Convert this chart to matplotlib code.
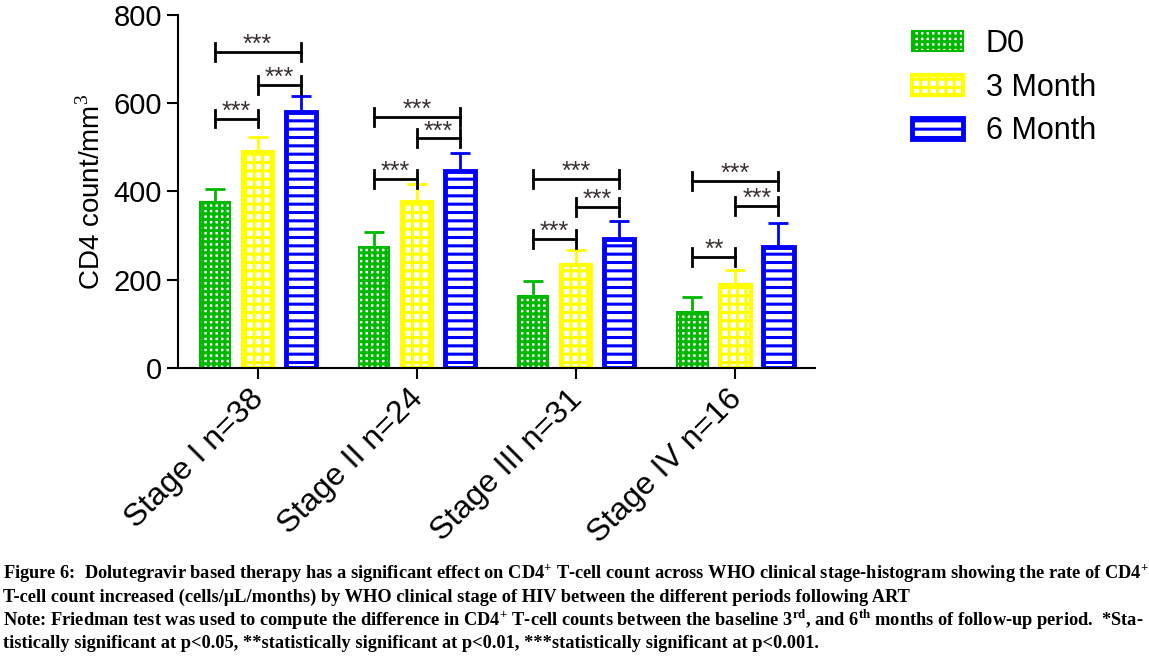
import numpy as np
import matplotlib
matplotlib.use("Agg")
import matplotlib.pyplot as plt
from matplotlib.transforms import ScaledTranslation

plt.rcParams["font.family"] = ["Liberation Sans", "DejaVu Sans"]
plt.rcParams["hatch.linewidth"] = 2.2
plt.rcParams["mathtext.fontset"] = "custom"
plt.rcParams["mathtext.rm"] = "Liberation Serif"
plt.rcParams["mathtext.bf"] = "Liberation Serif:bold"

# data
stages = ["Stage I n=38", "Stage II n=24", "Stage III n=31", "Stage IV n=16"]
series = ["D0", "3 Month", "6 Month"]
d0 = [376, 274, 163, 127]
m3 = [490, 376, 233, 188]
m6 = [580, 447, 293, 274]
d0_err = [30, 34, 34, 34]
m3_err = [34, 41, 35, 34]
m6_err = [37, 41, 40, 55]

# significance brackets: (stage, bar a, bar b, height, label)
brackets = [
    (0, 0, 2, 716, "***"), (0, 1, 2, 642, "***"), (0, 0, 1, 565, "***"),
    (1, 0, 2, 569, "***"), (1, 1, 2, 521, "***"), (1, 0, 1, 429, "***"),
    (2, 0, 2, 429, "***"), (2, 1, 2, 365, "***"), (2, 0, 1, 293, "***"),
    (3, 0, 2, 424, "***"), (3, 1, 2, 367, "***"), (3, 0, 1, 252, "**"),
]

colors = ["#00B800", "#FFFF00", "#0000FF"]
hatches = ["+++", "++", "--"]
edge_w = [1.5, 3.0, 3.5]

fig = plt.figure(figsize=(11.49, 6.59), dpi=100)
ax = fig.add_axes([0.155, 0.4416, 0.5544, 0.5357])

x = np.arange(len(stages))
offs = [-0.27, 0.0, 0.27]
width = 0.19
handles = []
for vals, errs, c, h, lw, off, name in zip(
    [d0, m3, m6], [d0_err, m3_err, m6_err], colors, hatches, edge_w, offs, series
):
    b = ax.bar(x + off, vals, width, color="white", edgecolor=c, hatch=h,
               linewidth=lw, label=name, zorder=2)
    ax.errorbar(x + off, vals, yerr=[np.zeros(len(vals)), errs], fmt="none",
                ecolor=c, elinewidth=2, capsize=7, capthick=2, zorder=1)
    handles.append(b)

for g, a, bb, y, lab in brackets:
    x1 = g + offs[a]
    x2 = g + offs[bb]
    ax.plot([x1, x2], [y, y], color="black", lw=2, clip_on=False)
    for xx in (x1, x2):
        ax.plot([xx, xx], [y - 20, y + 20], color="black", lw=2, clip_on=False)
    ax.text((x1 + x2) / 2, y - 12, lab, ha="center", va="bottom",
            fontsize=18, color="#3a3030")

ax.set_xlim(-0.5, 3.5)
ax.set_ylim(0, 800)
ax.set_yticks([0, 200, 400, 600, 800])
ax.tick_params(axis="y", labelsize=21, length=8, width=1.5)
ax.tick_params(axis="x", length=8, width=1.5)
ax.set_xticks(x)
ax.set_xticklabels(stages, rotation=45, ha="right", rotation_mode="anchor",
                   fontsize=23)
for lbl in ax.get_xticklabels():
    lbl.set_transform(lbl.get_transform()
                      + ScaledTranslation(-0.09, 0, fig.dpi_scale_trans))
ax.set_ylabel("CD4 count/mm$^3$", fontsize=20, labelpad=6)
ax.spines["top"].set_visible(False)
ax.spines["right"].set_visible(False)
ax.spines["left"].set_linewidth(1.5)
ax.spines["bottom"].set_linewidth(1.5)

fig.legend(handles=handles, labels=series, loc="upper left",
           bbox_to_anchor=(0.77, 0.998), frameon=False, fontsize=22,
           handlelength=1.65, handleheight=0.65, labelspacing=0.45,
           handletextpad=0.75)

caption = [
    "Figure 6:  Dolutegravir based therapy has a significant effect on CD4$^{\\mathbf{+}}$ T-cell count across WHO clinical stage-histogram showing the rate of CD4$^{\\mathbf{+}}$",
    "T-cell count increased (cells/μL/months) by WHO clinical stage of HIV between the different periods following ART",
    "Note: Friedman test was used to compute the difference in CD4$^{\\mathbf{+}}$ T-cell counts between the baseline 3$^{\\mathbf{rd}}$, and 6$^{\\mathbf{th}}$ months of follow-up period.  *Sta-",
    "tistically significant at p<0.05, **statistically significant at p<0.01, ***statistically significant at p<0.001.",
]
# size the caption so the first line spans the page width like the original
probe = fig.text(0, 0, caption[0], fontsize=12, family="Liberation Serif",
                 weight="bold")
fig.canvas.draw()
w = probe.get_window_extent().width
probe.remove()
cap_size = 12 * 1143 / w
for i, line in enumerate(caption):
    fig.text(0.003, 1 - (574 + 23 * i) / 659, line, ha="left", va="center",
             fontsize=cap_size, family="Liberation Serif", weight="bold")

fig.savefig("out.png", dpi=100)
